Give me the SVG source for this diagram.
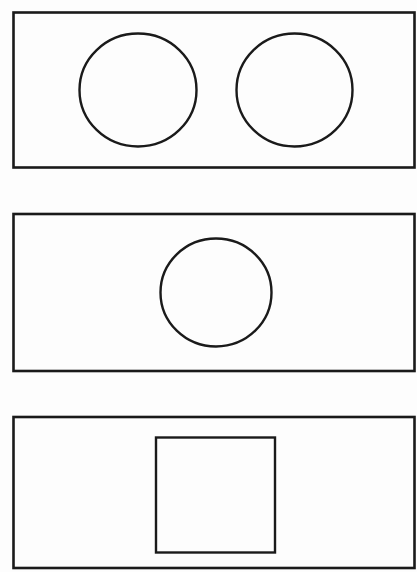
<svg xmlns="http://www.w3.org/2000/svg" width="417" height="572" viewBox="0 0 417 572">
<style>
.frame{fill:none;stroke:#1a1a1a;stroke-width:2.6}
.shape{fill:none;stroke:#1a1a1a;stroke-width:2.4}
</style>
<rect width="417" height="572" fill="#fdfdfd"/>
<g id="panel1">
<rect class="frame" x="13.5" y="12.5" width="401" height="155"/>
<ellipse class="shape" cx="138" cy="90" rx="58.5" ry="56.5"/>
<ellipse class="shape" cx="294.5" cy="90" rx="58" ry="56.5"/>
</g>
<g id="panel2">
<rect class="frame" x="13.5" y="214" width="401" height="157"/>
<ellipse class="shape" cx="216" cy="292.5" rx="55.5" ry="54"/>
</g>
<g id="panel3">
<rect class="frame" x="13.5" y="417" width="401" height="151"/>
<rect class="shape" x="156" y="437.5" width="119" height="115"/>
</g>
</svg>
